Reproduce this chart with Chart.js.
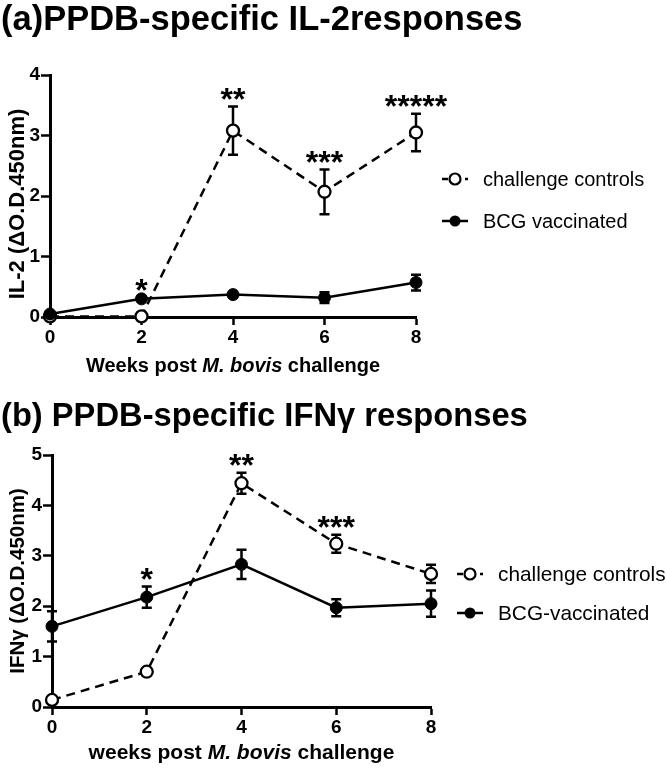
<!DOCTYPE html>
<html>
<head>
<meta charset="utf-8">
<script src="https://cdn.jsdelivr.net/npm/chart.js@4.4.1/dist/chart.umd.min.js"></script>
<style>
  html, body { margin: 0; padding: 0; background: #fff; }
  #wrap { position: relative; width: 666px; height: 768px; overflow: hidden; }
  canvas { position: absolute; left: 0; }
  #ca { top: 0; }
  #cb { top: 385px; }
</style>
</head>
<body>
<div id="wrap">
  <canvas id="ca" width="666" height="385"></canvas>
  <canvas id="cb" width="666" height="383"></canvas>
</div>
<script>
// ---------- data ----------
const weeks = [0, 2, 4, 6, 8];
const xTicks = [0, 2, 4, 6, 8];

const il2Challenge    = [0.01, 0.01, 3.08, 2.07, 3.05];
const il2ChallengeErr = [0.01, 0.01, 0.40, 0.37, 0.31];
const il2Bcg          = [0.05, 0.30, 0.37, 0.32, 0.57];
const il2BcgErr       = [0.02, 0.02, 0.03, 0.09, 0.13];
const il2Stars        = ['', '*', '**', '***', '*****'];
const il2YTicks       = [0, 1, 2, 3, 4];

const ifnChallenge    = [0.14, 0.70, 4.44, 3.24, 2.64];
const ifnChallengeErr = [0.03, 0.03, 0.21, 0.18, 0.18];
const ifnBcg          = [1.60, 2.18, 2.83, 1.97, 2.05];
const ifnBcgErr       = [0.30, 0.21, 0.29, 0.17, 0.26];
const ifnStars        = ['', '*', '**', '***', ''];
const ifnYTicks       = [0, 1, 2, 3, 4, 5];

const FONT = '"Liberation Sans", Arial, Helvetica, sans-serif';

// ---------- plugin for titles, error bars, stars, legend ----------
const decor = {
  id: 'decor',
  beforeDatasetsDraw(chart) {
    const o = chart.options.plugins.decor;
    const ctx = chart.ctx;
    const xs = chart.scales.x, ys = chart.scales.y;
    ctx.save();
    ctx.strokeStyle = '#000';
    ctx.lineWidth = 2.5;
    o.errors.forEach(({vals, errs}) => {
      vals.forEach((v, i) => {
        const x = xs.getPixelForValue(weeks[i]);
        const yt = ys.getPixelForValue(v + errs[i]);
        const yb = ys.getPixelForValue(v - errs[i]);
        if (yb - yt < 3) return;
        ctx.beginPath();
        ctx.moveTo(x, yt); ctx.lineTo(x, yb);
        ctx.moveTo(x - 5, yt); ctx.lineTo(x + 5, yt);
        ctx.moveTo(x - 5, yb); ctx.lineTo(x + 5, yb);
        ctx.stroke();
      });
    });
    ctx.restore();
  },
  afterDraw(chart) {
    const o = chart.options.plugins.decor;
    const ctx = chart.ctx;
    const xs = chart.scales.x, ys = chart.scales.y;
    const ca = chart.chartArea;
    ctx.save();
    ctx.fillStyle = '#000';
    // main title
    ctx.font = 'bold ' + o.titleSize + 'px ' + FONT;
    ctx.textAlign = 'left';
    ctx.textBaseline = 'middle';
    ctx.fillText(o.title, o.titleX, o.titleY);
    // y title
    ctx.save();
    ctx.translate(o.yTitleX, (ca.top + ca.bottom) / 2 + o.yTitleShift);
    ctx.rotate(-Math.PI / 2);
    ctx.font = 'bold ' + o.yTitleSize + 'px ' + FONT;
    ctx.textAlign = 'center';
    ctx.textBaseline = 'middle';
    ctx.fillText(o.yTitle, 0, 0);
    ctx.restore();
    // x title with italic part
    const parts = o.xTitle;
    let total = 0;
    parts.forEach(p => {
      ctx.font = (p.i ? 'italic ' : '') + 'bold ' + o.xTitleSize + 'px ' + FONT;
      p.w = ctx.measureText(p.t).width;
      total += p.w;
    });
    let cx = (ca.left + ca.right) / 2 - total / 2;
    ctx.textAlign = 'left';
    ctx.textBaseline = 'middle';
    parts.forEach(p => {
      ctx.font = (p.i ? 'italic ' : '') + 'bold ' + o.xTitleSize + 'px ' + FONT;
      ctx.fillText(p.t, cx, o.xTitleY);
      cx += p.w;
    });
    // significance stars
    ctx.font = 'bold ' + o.starSize + 'px ' + FONT;
    ctx.textAlign = 'center';
    ctx.textBaseline = 'alphabetic';
    o.stars.forEach((s, i) => {
      if (!s) return;
      let top = -Infinity;
      o.errors.forEach(({vals, errs}) => { top = Math.max(top, vals[i] + errs[i]); });
      const x = xs.getPixelForValue(weeks[i]);
      const y = ys.getPixelForValue(top) - 15;
      ctx.fillText(s, x, y + o.starSize * 0.58);
    });
    // legend
    o.legend.forEach(item => {
      const y = item.y;
      ctx.strokeStyle = '#000';
      ctx.lineWidth = 2.5;
      ctx.beginPath();
      if (item.dashed) {
        ctx.moveTo(o.legendX0, y); ctx.lineTo(o.legendX0 + 6, y);
        ctx.moveTo(o.legendX1 - 3, y); ctx.lineTo(o.legendX1, y);
      } else {
        ctx.moveTo(o.legendX0, y); ctx.lineTo(o.legendX1, y);
      }
      ctx.stroke();
      const mx = (o.legendX0 + o.legendX1) / 2;
      ctx.beginPath();
      ctx.arc(mx, y, 5.5, 0, Math.PI * 2);
      if (item.dashed) {
        ctx.fillStyle = '#fff'; ctx.fill();
        ctx.lineWidth = 2.2; ctx.stroke();
      } else {
        ctx.fillStyle = '#000'; ctx.fill();
      }
      ctx.fillStyle = '#000';
      ctx.font = o.legendSize + 'px ' + FONT;
      ctx.textAlign = 'left';
      ctx.textBaseline = 'middle';
      ctx.fillText(item.label, o.legendTextX, y + 1);
    });
    ctx.restore();
  }
};

function build(canvasId, cfg) {
  const W = cfg.W, H = cfg.H;
  const xAxisH = 32;
  const datasets = [
    {
      label: cfg.names[0],
      data: weeks.map((w, i) => ({x: w, y: cfg.challenge[i]})),
      borderColor: '#000', borderWidth: 2.5, borderDash: [9, 6],
      pointStyle: 'circle', pointRadius: 6, pointBorderWidth: 2.3,
      pointBackgroundColor: '#fff', pointBorderColor: '#000',
      clip: false, tension: 0, order: 2
    },
    {
      label: cfg.names[1],
      data: weeks.map((w, i) => ({x: w, y: cfg.bcg[i]})),
      borderColor: '#000', borderWidth: 2.5,
      pointStyle: 'circle', pointRadius: 6, pointBorderWidth: 1,
      pointBackgroundColor: '#000', pointBorderColor: '#000',
      clip: false, tension: 0, order: 1
    }
  ];
  return new Chart(document.getElementById(canvasId), {
    type: 'line',
    data: { datasets },
    options: {
      responsive: false,
      animation: false,
      events: [],
      layout: { padding: { left: 0, right: W - cfg.area.right, top: cfg.area.top, bottom: H - cfg.area.bottom - xAxisH } },
      scales: {
        x: {
          type: 'linear', min: 0, max: 8,
          afterFit(s) { s.height = xAxisH; },
          afterBuildTicks(s) { s.ticks = xTicks.map(v => ({value: v})); },
          grid: { display: true, drawOnChartArea: false, drawTicks: true, tickLength: 8, tickColor: '#000', tickWidth: 2.5 },
          border: { display: true, color: '#000', width: 3 },
          ticks: { color: '#000', font: { family: FONT, size: 19, weight: 'bold' }, padding: 1, maxRotation: 0 }
        },
        y: {
          type: 'linear', min: 0, max: cfg.yTicks[cfg.yTicks.length - 1],
          afterFit(s) { s.width = cfg.area.left; },
          afterBuildTicks(s) { s.ticks = cfg.yTicks.map(v => ({value: v})); },
          grid: { display: true, drawOnChartArea: false, drawTicks: true, tickLength: 9, tickColor: '#000', tickWidth: 2.5 },
          border: { display: true, color: '#000', width: 3 },
          ticks: { color: '#000', font: { family: FONT, size: 19, weight: 'bold' }, padding: 1 }
        }
      },
      plugins: {
        legend: { display: false },
        tooltip: { enabled: false },
        decor: {
          title: cfg.title, titleSize: cfg.titleSize, titleX: 1, titleY: cfg.titleY,
          yTitle: cfg.yTitle, yTitleX: 18, yTitleSize: cfg.yTitleSize, yTitleShift: cfg.yTitleShift,
          xTitle: cfg.xTitle, xTitleY: cfg.xTitleY, xTitleSize: cfg.xTitleSize,
          starSize: 32, stars: cfg.stars,
          errors: [ {vals: cfg.challenge, errs: cfg.challengeErr}, {vals: cfg.bcg, errs: cfg.bcgErr} ],
          legend: [ {label: cfg.names[0], dashed: true, y: cfg.legendY[0]}, {label: cfg.names[1], dashed: false, y: cfg.legendY[1]} ],
          legendX0: cfg.legendX, legendX1: cfg.legendX + 26, legendTextX: cfg.legendX + 41, legendSize: cfg.legendSize
        }
      }
    },
    plugins: [decor]
  });
}

build('ca', {
  W: 666, H: 385,
  area: { left: 50, right: 416, top: 75, bottom: 317 },
  challenge: il2Challenge, challengeErr: il2ChallengeErr,
  bcg: il2Bcg, bcgErr: il2BcgErr, stars: il2Stars, yTicks: il2YTicks,
  names: ['challenge controls', 'BCG vaccinated'],
  title: '(a)PPDB-specific IL-2responses', titleY: 20, titleSize: 34.5,
  yTitle: 'IL-2 (\u0394O.D.450nm)', yTitleSize: 22, yTitleShift: 8,
  xTitle: [{t: 'Weeks post ', i: false}, {t: 'M. bovis', i: true}, {t: ' challenge', i: false}],
  xTitleY: 366, xTitleSize: 20,
  legendX: 442, legendY: [179, 221], legendSize: 20
});

build('cb', {
  W: 666, H: 383,
  area: { left: 52, right: 431, top: 70, bottom: 322 },
  challenge: ifnChallenge, challengeErr: ifnChallengeErr,
  bcg: ifnBcg, bcgErr: ifnBcgErr, stars: ifnStars, yTicks: ifnYTicks,
  names: ['challenge controls', 'BCG-vaccinated'],
  title: '(b) PPDB-specific IFN\u03b3 responses', titleY: 32, titleSize: 32.7,
  yTitle: 'IFN\u03b3 (\u0394O.D.450nm)', yTitleSize: 20.5, yTitleShift: 0,
  xTitle: [{t: 'weeks post ', i: false}, {t: 'M. bovis', i: true}, {t: ' challenge', i: false}],
  xTitleY: 368, xTitleSize: 21,
  legendX: 457, legendY: [189, 228], legendSize: 20.8
});
</script>
</body>
</html>
